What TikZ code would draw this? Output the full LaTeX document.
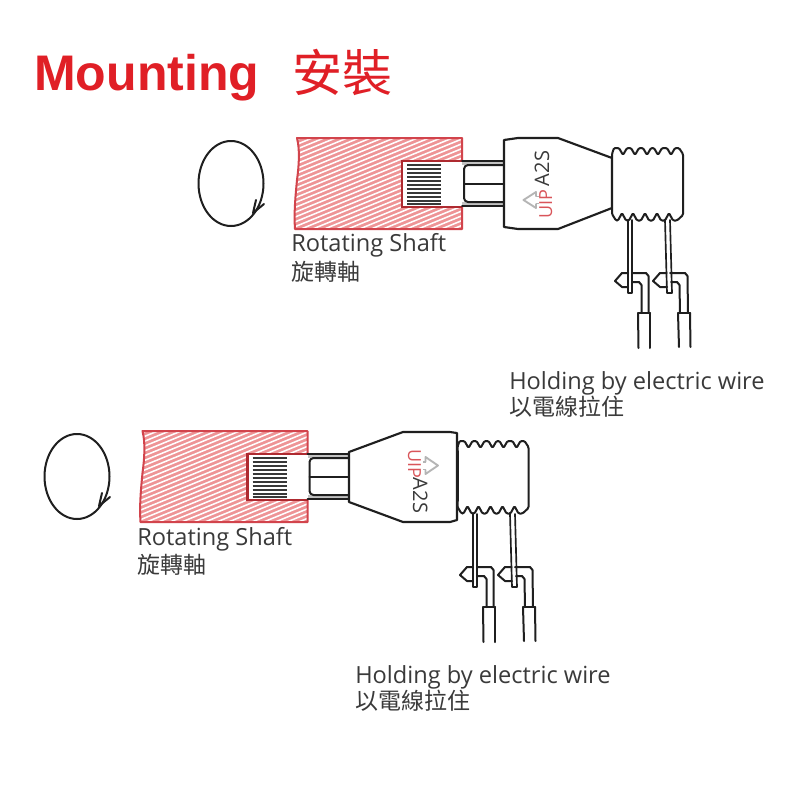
\documentclass[tikz,border=0pt]{standalone}
\usepackage{fontspec}
\setmainfont{Open Sans}
\newfontfamily\headfont{Liberation Sans}[BoldFont={Liberation Sans Bold}]
\newfontfamily\cjkfont{Noto Sans CJK TC}
\definecolor{headred}{HTML}{E01F26}
\definecolor{shaftred}{HTML}{D2444C}
\definecolor{slotred}{HTML}{AE2A30}
\definecolor{hatchpink}{HTML}{EE9496}
\definecolor{inkgrey}{HTML}{3A3A3A}
\definecolor{uipred}{HTML}{D9555A}
\definecolor{arrowgrey}{HTML}{B5B5B5}
\definecolor{pingrey}{HTML}{999999}
\tikzset{
  ink/.style={draw=black!88,line width=1.5pt,line join=round,line cap=round},
  thinink/.style={draw=black!88,line width=1.25pt,line join=round,line cap=round},
  bodyline/.style={draw=black!88,line width=1.6pt,line join=round,line cap=round},
  labeltext/.style={anchor=base west,inner sep=0pt,text=inkgrey,font=\fontsize{17.7}{20}\selectfont},
  cjktext/.style={anchor=base west,inner sep=0pt,text=inkgrey,font=\cjkfont\fontsize{17.2}{20}\selectfont},
  uiptext/.style={inner sep=0pt,text=uipred,font=\fontsize{13.5}{15}\selectfont},
  modeltext/.style={inner sep=0pt,text=inkgrey,font=\fontsize{15}{17}\selectfont},
}
\newcommand{\shaftpart}[1]{%
  \begin{scope}[shift={#1}]
    \begin{scope}
      \clip (297,138) .. controls (300,150) and (299,165) .. (297,180) .. controls (295,200) and (294,215) .. (295,229) -- (462,229) -- (462,138) -- cycle;
      \fill[hatchpink] (290,130) rectangle (470,235);
      \foreach \k in {0,4.8,...,190}{
        \draw[white,line width=1.15pt] (285,{130+\k}) -- (475,{130+\k-78});
      }
    \end{scope}
    \draw[shaftred,line width=1.5pt,line join=round] (462,161) -- (462,138) -- (297,138) .. controls (300,150) and (299,165) .. (297,180) .. controls (295,200) and (294,215) .. (295,229) -- (462,229) -- (462,206);
    \fill[white] (402,161) rectangle (464,207);
    \draw[slotred,line width=2pt] (462,161) -- (402,161) -- (402,207) -- (462,207);
    \foreach \yy in {164.5,168.6,172.6,176.5,180.5,184.5,188.5,192.5,196.5,200.5,203.5}{
      \draw[black!78,line width=1.5pt] (407,\yy) -- (441,\yy);
    }
    \fill[pingrey!60] (462,161) rectangle (503,165);
    \fill[pingrey!60] (462,202) rectangle (503,206);
    \draw[thinink] (462,161) -- (503,161);
    \draw[thinink] (503,206) -- (462,206);
    \draw[ink,rounded corners=3pt] (503,165) -- (464,165) -- (464,202) -- (503,202);
    \draw[ink] (464,183.5) -- (503,183.5);
  \end{scope}}
\newcommand{\ferrulepart}[1]{%
  \begin{scope}[shift={#1}]
    \draw[ink,rounded corners=0.9pt,fill=white]
      (612,154) -- (614,148) -- (619,148) -- (623,155) -- (627,148) -- (631,148) -- (635,155) -- (639,148) -- (643,148) -- (647,155) -- (651,148) -- (654,148) -- (658,155) -- (662,148) -- (667,148) -- (671,155) -- (675,148) -- (679,148) -- (683,154)
      -- (683,215) -- (677,220.5) -- (673,220.5) -- (669,213) -- (665,220.5) -- (661,220.5) -- (657,213) -- (653,220.5) -- (649,220.5) -- (645,213) -- (641,220.5) -- (637,220.5) -- (633,213) -- (629,220.5) -- (626,220.5) -- (622,213) -- (618,220.5) -- (616,220.5) -- (612,214) -- cycle;
    \draw[bodyline] (612,158) -- (612,208);
  \end{scope}}
\newcommand{\wirepart}[1]{%
  \begin{scope}[shift={#1}]
    \draw[thinink] (628,220) -- (628,293) -- (632,293) -- (632,220);
    \draw[ink] (628,273) -- (622,273) -- (615,281) -- (622,287) -- (628,287);
    \draw[ink] (632,273) -- (646,273) -- (648.5,276) -- (648.5,313);
    \draw[ink] (632,282) -- (639,282) -- (641.5,285) -- (641.5,313);
    \draw[ink] (638,313) -- (650,313);
    \draw[ink] (638,313) -- (638.5,348);
    \draw[ink] (650,313) -- (650,348);
    \draw[thinink] (665,220) -- (667,293) -- (672,293) -- (670,220);
    \draw[ink] (666.5,273) -- (660,273) -- (653,281) -- (660,287) -- (667,287);
    \draw[ink] (670,273) -- (685,273) -- (687.5,276) -- (688,313);
    \draw[ink] (671,282) -- (677,282) -- (679.5,285) -- (680,313);
    \draw[ink] (678,313) -- (690,313);
    \draw[ink] (678,313) -- (679,347);
    \draw[ink] (690,313) -- (690.5,347);
  \end{scope}}
\newcommand{\turnpart}[1]{%
  \begin{scope}[shift={#1}]
    \draw[ink] (231,183.5) ellipse [x radius=32.5,y radius=42.5];
    \draw[ink] (256,200) -- (253,213) -- (264,204);
  \end{scope}}
\begin{document}
\begin{tikzpicture}[x=0.75pt,y=-0.75pt]
\useasboundingbox (0,0) rectangle (800,800);
\fill[white] (0,0) rectangle (800,800);
\node[anchor=base west,inner sep=0pt,text=headred,font=\headfont\bfseries\fontsize{37.5}{40}\selectfont] (title) at (34,90) {Mounting};
\node[anchor=base west,inner sep=0pt,text=headred,font=\cjkfont\fontsize{37.5}{40}\selectfont] (titlecjk) at (292,91) {安裝};

% upper assembly
\turnpart{(0,0)}
\shaftpart{(0,0)}
\draw[bodyline,fill=white] (504,140) -- (518,138) -- (558,138) -- (612,158) -- (612,208) -- (558,229) -- (518,229) -- (504,227) -- cycle;
\ferrulepart{(0,0)}
\wirepart{(0,0)}
\draw[arrowgrey,line width=1.4pt,line join=round] (536,196.5) -- (536,192) -- (523.5,200) -- (536,208) -- (536,203.5);
\draw[arrowgrey,line width=1.4pt] (536,196.5) -- (538.5,196.5) (536,203.5) -- (538.5,203.5);
\node[uiptext,rotate=90,anchor=base] (uip1) at (552,204) {UIP};
\node[modeltext,rotate=90,anchor=base] (a2s1) at (549,168.5) {A2S};
\node[labeltext] (shaft1) at (291,251) {Rotating Shaft};
\node[cjktext] (shaftcjk1) at (291,280) {旋轉軸};
\node[labeltext] (hold1) at (509,389) {Holding by electric wire};
\node[cjktext] (holdcjk1) at (509,415) {以電線拉住};

% lower assembly
\turnpart{(-154,293)}
\shaftpart{(-154.5,293)}
\draw[bodyline,fill=white] (349,452) -- (403,432) -- (450,432) -- (457,433) -- (457,520) -- (450,522) -- (403,522) -- (349,502) -- cycle;
\ferrulepart{(-154.5,293)}
\wirepart{(-155,294)}
\draw[arrowgrey,line width=1.4pt,line join=round] (425.5,462) -- (425.5,457) -- (438,465.5) -- (425.5,474) -- (425.5,469.5);
\draw[arrowgrey,line width=1.4pt] (425.5,462) -- (423,462) (425.5,469.5) -- (423,469.5);
\node[uiptext,rotate=-90,anchor=base] (uip2) at (408,464) {UIP};
\node[modeltext,rotate=-90,anchor=base] (a2s2) at (413,495.5) {A2S};
\node[labeltext] (shaft2) at (137,545) {Rotating Shaft};
\node[cjktext] (shaftcjk2) at (137,573) {旋轉軸};
\node[labeltext] (hold2) at (355,683) {Holding by electric wire};
\node[cjktext] (holdcjk2) at (355,709) {以電線拉住};
\end{tikzpicture}
\end{document}
